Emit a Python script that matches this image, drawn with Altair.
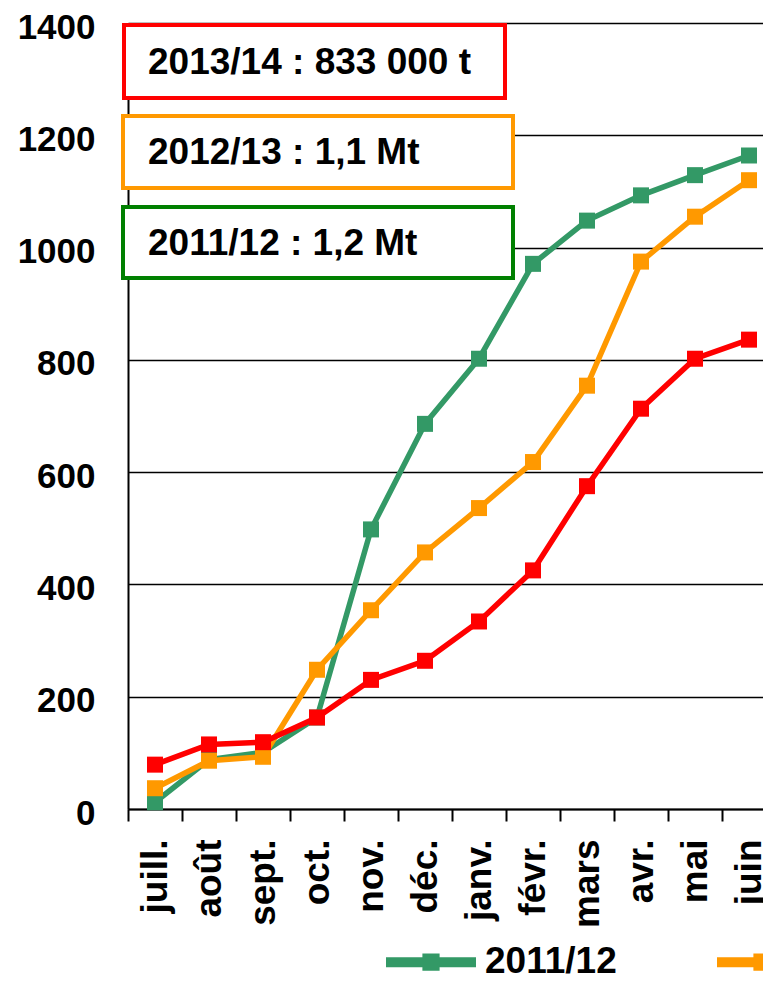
import altair as alt
import pandas as pd

months = ["juill.", "août", "sept.", "oct.", "nov.", "déc.", "janv.", "févr.", "mars", "avr.", "mai", "juin"]
seasons = ["2011/12", "2012/13", "2013/14"]
s2011 = [12, 88, 101, 163, 498, 686, 802, 971, 1048, 1093, 1129, 1164]
s2012 = [37, 86, 93, 248, 354, 457, 536, 618, 754, 975, 1055, 1120]
s2013 = [79, 115, 119, 163, 230, 264, 334, 425, 575, 713, 802, 836]
colors = ["#339966", "#FF9900", "#FF0000"]
y_ticks = [0, 200, 400, 600, 800, 1000, 1200, 1400]
box_labels = ["2013/14 : 833 000 t", "2012/13 : 1,1 Mt", "2011/12 : 1,2 Mt"]
box_colors = ["#FF0000", "#FF9900", "#008000"]

rows = []
for season, vals in zip(seasons, [s2011, s2012, s2013]):
    for m, v in zip(months, vals):
        rows.append({"mois": m, "saison": season, "valeur": v})
df = pd.DataFrame(rows)

FONT = "Liberation Sans"

x_enc = alt.X(
    "mois:N",
    sort=months,
    scale=alt.Scale(type="band", paddingInner=0, paddingOuter=0, range=[0, 648]),
    axis=alt.Axis(
        title=None, grid=False, tickBand="extent", ticks=True, tickSize=12,
        tickColor="black", tickWidth=2, domainColor="black", domainWidth=2,
        labelAngle=-90, labelFontSize=37, labelFontWeight="bold", labelFont=FONT,
        labelColor="black", labelPadding=18, labelBound=False, labelOverlap=False,
    ),
)
y_enc = alt.Y(
    "valeur:Q",
    scale=alt.Scale(domain=[0, 1400], nice=False),
    axis=alt.Axis(
        title=None, values=y_ticks, format="d", grid=True, gridColor="black", gridWidth=1.5,
        gridOpacity=1, ticks=False, tickSize=0, domainColor="black", domainWidth=2,
        labelFontSize=35, labelFontWeight="bold", labelFont=FONT, labelColor="black",
        labelPadding=33, labelOffset=4,
    ),
)
color_enc = alt.Color(
    "saison:N",
    scale=alt.Scale(domain=seasons, range=colors),
    sort=seasons,
    legend=alt.Legend(
        title=None, orient="none", legendX=253, legendY=889, direction="horizontal",
        columns=3, columnPadding=80, padding=0,
        symbolType="M-1,0H1M-0.08,-0.08H0.08V0.08H-0.08Z", symbolSize=8100,
        symbolStrokeWidth=10, symbolOpacity=1, labelFontSize=37, labelFontWeight="bold",
        labelFont=FONT, labelColor="black", labelOffset=4, labelLimit=400,
    ),
)

lines = alt.Chart(df).mark_line(
    strokeWidth=5.5,
    point=alt.OverlayMarkDef(shape="square", size=256, filled=True, opacity=1),
).encode(x=x_enc, y=y_enc, color=color_enc, order=alt.Order("saison:N"))

layers = [lines]
box_geom = [(-4, 377, 2, 75), (-5, 385, 93, 165), (-5, 385, 184, 255)]
for label, col, (x1, x2, y1, y2) in zip(box_labels, box_colors, box_geom):
    bdf = pd.DataFrame({"t": [label]})
    rect = alt.Chart(bdf).mark_rect(fill="white", stroke=col, strokeWidth=4).encode(
        x=alt.value(x1), x2=alt.value(x2), y=alt.value(y1), y2=alt.value(y2)
    )
    txt = alt.Chart(bdf).mark_text(
        align="left", baseline="middle", fontSize=37, fontWeight="bold", font=FONT, color="black"
    ).encode(x=alt.value(20), y=alt.value((y1 + y2) / 2 + 1), text="t:N")
    layers += [rect, txt]

chart = alt.layer(*layers).properties(
    width=635, height=786,
    autosize=alt.AutoSizeParams(type="none"),
    padding={"left": 120, "top": 15, "right": 0, "bottom": 166},
).configure_view(stroke=None).configure(background="white")

chart.save("out.html", embed_options={"renderer": "svg", "actions": False})
